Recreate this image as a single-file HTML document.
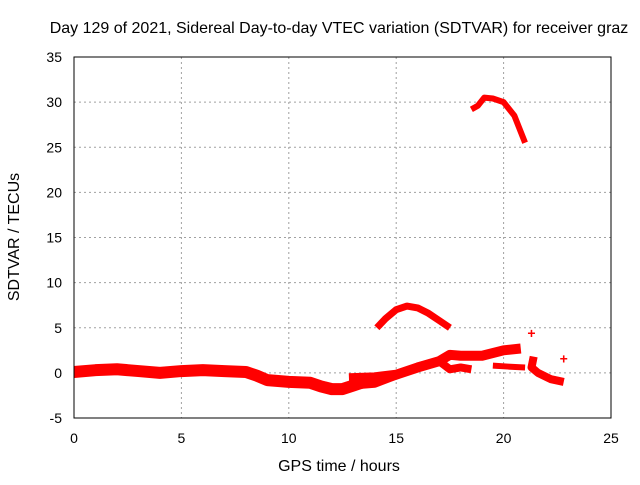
<!DOCTYPE html>
<html><head><meta charset="utf-8"><style>
body{margin:0;background:#fff}
svg text{font-family:"Liberation Sans",sans-serif;font-size:14px;fill:#000}
svg text.big{font-size:16px}
</style></head><body>
<svg width="640" height="480">
<text class="big" x="339" y="33" text-anchor="middle">Day 129 of 2021, Sidereal Day-to-day VTEC variation (SDTVAR) for receiver graz</text>
<g id="grid"></g>
<g id="series"></g>
<rect x="74" y="57" width="537" height="361" fill="none" stroke="#000"/>
<g id="ticks"></g>
<text class="big" x="339" y="471" text-anchor="middle">GPS time / hours</text>
<text class="big" transform="translate(19,237) rotate(-90)" text-anchor="middle">SDTVAR / TECUs</text>
</svg>
<script>
const xTicks=[0,5,10,15,20,25];
const yTicks=[-5,0,5,10,15,20,25,30,35];
const trackMainX=[0,1,2,3,4,5,6,7,8,8.5,9,10,11,11.5,12,12.5,13,13.5];
const trackMainY=[0.1,0.3,0.4,0.2,0,0.2,0.3,0.2,0.1,-0.3,-0.8,-1.0,-1.1,-1.5,-1.8,-1.8,-1.4,-1.0];
const trackUpX=[12.8,14,15,16,17,17.5,18,19,20,20.8];
const trackUpY=[-0.6,-0.5,-0.2,0.6,1.3,2.0,1.9,1.9,2.5,2.7];
const trackLowX=[13,14,15,16,17,17.5,18,18.5];
const trackLowY=[-1.4,-1.2,-0.3,0.7,1.3,0.4,0.6,0.4];
const arcMidX=[14.1,14.5,15,15.5,16,16.5,17,17.5];
const arcMidY=[5,6,7,7.4,7.2,6.6,5.8,5];
const arcTopX=[18.5,18.8,19.1,19.5,20,20.5,21];
const arcTopY=[29.2,29.6,30.5,30.4,30,28.5,25.5];
const tailAX=[19.5,20.2,21];
const tailAY=[0.8,0.7,0.6];
const tailBX=[21.4,21.3,21.6,22.2,22.8];
const tailBY=[1.8,0.6,0,-0.7,-1.0];
const crossX=[21.3,22.8];
const crossY=[4.4,1.6];
const X=v=>74+v*537/25, Y=v=>418-(v+5)*361/40;
const ns="http://www.w3.org/2000/svg";
const grid=document.getElementById('grid'),ticks=document.getElementById('ticks'),ser=document.getElementById('series');
function mk(p,tag,a){const e=document.createElementNS(ns,tag);for(const k in a)e.setAttribute(k,a[k]);p.appendChild(e);return e;}
xTicks.forEach(t=>{
 if(t>0&&t<25){const l=mk(grid,'line',{x1:X(t),x2:X(t),y1:57,y2:418,stroke:'#a0a0a0','stroke-dasharray':'2,3'});
 
 }
 const tx=mk(ticks,'text',{x:X(t),y:443,'text-anchor':'middle'});tx.textContent=t;
 
 
});
yTicks.forEach(t=>{
 if(t>-5&&t<35){const l=mk(grid,'line',{x1:74,x2:611,y1:Y(t),y2:Y(t),stroke:'#a0a0a0','stroke-dasharray':'2,3'});
 
 }
 const tx=mk(ticks,'text',{x:62,y:Y(t)+5,'text-anchor':'end'});tx.textContent=t;
 
 
});
function track(xs,ys,w,name){
 const pts=xs.map((x,i)=>X(x)+','+Y(ys[i])).join(' ');
 const p=mk(ser,'polyline',{points:pts,fill:'none',stroke:'#f00','stroke-width':w,'stroke-linejoin':'round','stroke-linecap':'butt'});
 
 
}
track(trackMainX,trackMainY,12,'track-main');
track(trackUpX,trackUpY,10,'track-upper');
track(trackLowX,trackLowY,8,'track-lower');
track(arcMidX,arcMidY,7,'arc-middle');
track(arcTopX,arcTopY,6,'arc-top');
track(tailAX,tailAY,6,'tail-a');
track(tailBX,tailBY,8,'tail-b');
crossX.forEach((x,i)=>{
 const c=mk(ser,'text',{x:X(x),y:Y(crossY[i])+5,'text-anchor':'middle',style:'fill:#f00;font-size:14px;font-weight:bold'});c.textContent='+';
 
 
});
</script>
</body></html>
